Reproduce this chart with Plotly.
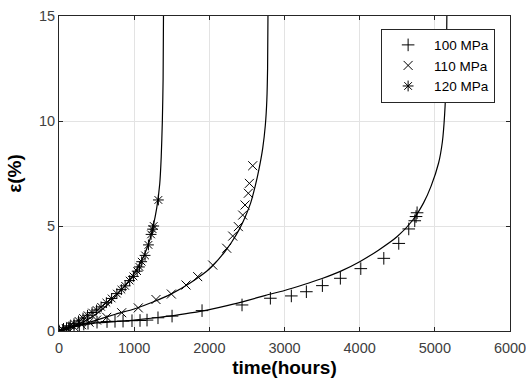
import plotly.graph_objects as go

# ---- measured data (hours, strain %) ----
t100 = [0, 60, 130, 200, 270, 330, 386, 506, 639, 745, 852, 971, 1078, 1171, 1317, 1504, 1903, 2435,
        2812, 3091, 3291, 3504, 3743, 4015, 4321, 4520, 4653, 4733, 4750, 4764]
e100 = [0, 0.08, 0.15, 0.22, 0.28, 0.33, 0.37, 0.42, 0.45, 0.46, 0.47, 0.49, 0.50, 0.52, 0.63, 0.71, 0.97, 1.24,
        1.56, 1.67, 1.87, 2.16, 2.51, 2.97, 3.46, 4.17, 4.86, 5.25, 5.45, 5.63]

t110 = [0, 100, 200, 300, 400, 500, 635, 834, 1055, 1290, 1495, 1690, 1845, 2045, 2231, 2311, 2386,
        2444, 2475, 2519, 2533, 2577]
e110 = [0, 0.10, 0.20, 0.30, 0.42, 0.52, 0.65, 0.87, 1.10, 1.50, 1.76, 2.19, 2.59, 3.14, 3.94, 4.52, 4.97,
        5.52, 6.00, 6.56, 7.03, 7.87]

t120 = [0, 50, 100, 150, 200, 260, 320, 380, 440, 500, 560, 630, 700, 770, 830, 880, 940, 990, 1040,
        1070, 1100, 1145, 1190, 1225, 1245, 1260, 1322]
e120 = [0, 0.06, 0.15, 0.25, 0.35, 0.48, 0.62, 0.75, 0.88, 1.0, 1.15, 1.35, 1.55, 1.78, 1.97, 2.15, 2.4, 2.6, 2.85,
        3.05, 3.3, 3.6, 4.1, 4.6, 4.85, 5.0, 6.24]

# fitted curves
ct100 = [0, 100, 250, 500, 750, 1000, 1250, 1500, 1750, 2000, 2250, 2500, 2750, 3000, 3250, 3500, 3750,
         4000, 4250, 4500, 4700, 4850, 4950, 5050, 5100, 5130, 5150, 5160]
ce100 = [0, 0.15, 0.28, 0.38, 0.45, 0.52, 0.62, 0.72, 0.86, 1.02, 1.22, 1.45, 1.70, 1.93, 2.20, 2.50, 2.85,
         3.30, 3.85, 4.50, 5.25, 6.10, 6.90, 8.0, 9.0, 10.3, 12.0, 15.0]

ct110 = [0, 250, 500, 750, 1000, 1250, 1500, 1750, 2000, 2200, 2300, 2400, 2480, 2550, 2610, 2660, 2710,
         2745, 2765, 2775, 2780]
ce110 = [0, 0.25, 0.52, 0.80, 1.05, 1.38, 1.78, 2.30, 2.95, 3.75, 4.25, 4.85, 5.45, 6.10, 6.90, 7.70, 8.70,
         9.80, 11.0, 12.5, 15.0]

ct120 = [0, 100, 200, 300, 400, 500, 600, 700, 800, 900, 1000, 1100, 1200, 1250, 1300, 1340, 1360, 1375,
         1385, 1390]
ce120 = [0, 0.12, 0.25, 0.40, 0.58, 0.82, 1.10, 1.45, 1.85, 2.25, 2.75, 3.35, 4.25, 4.95, 5.85, 7.0, 8.3, 10.0,
         12.0, 15.0]

labels = ["100 MPa", "110 MPa", "120 MPa"]
symbols = ["cross-thin-open", "x-thin-open", "asterisk-open"]

FONT = "Liberation Sans, Arial"

fig = go.Figure()
for ct, ce in [(ct100, ce100), (ct110, ce110), (ct120, ce120)]:
    fig.add_trace(go.Scatter(x=ct, y=ce, mode="lines",
                             line=dict(color="black", width=1.2, shape="spline", smoothing=0.6),
                             showlegend=False, hoverinfo="skip"))
for t, e, lab, sym in zip([t100, t110, t120], [e100, e110, e120], labels, symbols):
    fig.add_trace(go.Scatter(x=t, y=e, mode="markers", name=lab,
                             marker=dict(symbol=sym, size=9, color="black",
                                         line=dict(color="black", width=1))))

axis_common = dict(showline=True, linecolor="#262626", linewidth=1, mirror="ticks",
                   ticks="inside", ticklen=4, tickcolor="#262626",
                   showgrid=True, gridcolor="#e3e3e3", gridwidth=1, zeroline=False,
                   ticklabeloverflow="allow", automargin=False,
                   tickfont=dict(family=FONT, size=14.5, color="#404040"))

fig.update_layout(
    width=526, height=383,
    margin=dict(l=59, r=16, t=16, b=52),
    paper_bgcolor="white", plot_bgcolor="white",
    xaxis=dict(range=[0, 6000], tickvals=[0, 1000, 2000, 3000, 4000, 5000, 6000],
               ticklabelstandoff=4,
               title=dict(text="<b>time(hours)</b>", standoff=5,
                          font=dict(family=FONT, size=19, color="black")),
               **axis_common),
    yaxis=dict(range=[0, 15], tickvals=[0, 5, 10, 15],
               title=dict(text="<b>ε(%)</b>", standoff=12,
                          font=dict(family=FONT, size=19, color="black")),
               **axis_common),
    legend=dict(x=0.967, y=0.96, xanchor="right", yanchor="top",
                bgcolor="white", bordercolor="#262626", borderwidth=1,
                font=dict(family=FONT, size=13.5, color="black"),
                tracegroupgap=0, itemwidth=42),
    showlegend=True,
)

fig.write_html("out.html")
